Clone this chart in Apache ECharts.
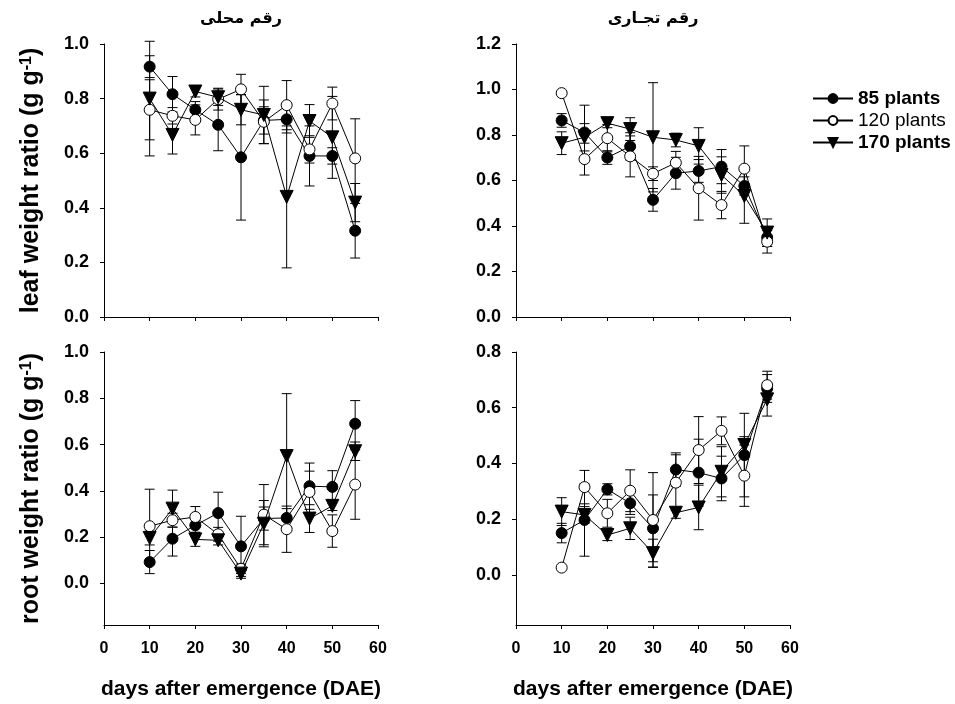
<!DOCTYPE html>
<html>
<head>
<meta charset="utf-8">
<script src="https://cdn.jsdelivr.net/npm/echarts@6/dist/echarts.min.js"></script>
<style>
html, body { margin: 0; padding: 0; background: #fff; }
#chart { width: 955px; height: 704px; }
</style>
</head>
<body>
<div id="chart"></div>
<script>
var days = [10, 15, 20, 25, 30, 35, 40, 45, 50, 55];
var seriesNames = ['85 plants', '120 plants', '170 plants'];
var panelTitles = ['رقم محلی', 'رقم تجـاری'];
var xName = 'days after emergence (DAE)';

var yTicksLeafLocal = [0, 0.2, 0.4, 0.6, 0.8, 1.0];
var yTicksLeafTrade = [0, 0.2, 0.4, 0.6, 0.8, 1.0, 1.2];
var yTicksRootLocal = [0, 0.2, 0.4, 0.6, 0.8, 1.0];
var yTicksRootTrade = [0, 0.2, 0.4, 0.6, 0.8];

// leaf weight ratio - local cultivar
var leafLocal85 = [0.917, 0.816, 0.759, 0.704, 0.585, 0.72, 0.724, 0.59, 0.59, 0.316];
var leafLocal85Err = [0.04, 0.065, 0.03, 0.095, 0.23, 0.05, 0.05, 0.11, 0.03, 0.10];
var leafLocal120 = [0.759, 0.737, 0.722, 0.798, 0.834, 0.715, 0.776, 0.614, 0.782, 0.581];
var leafLocal120Err = [0.11, 0.03, 0.055, 0.04, 0.055, 0.08, 0.09, 0.05, 0.06, 0.145];
var leafLocal170 = [0.80, 0.667, 0.826, 0.805, 0.759, 0.74, 0.44, 0.718, 0.658, 0.419];
var leafLocal170Err = [0.21, 0.07, 0.02, 0.03, 0.055, 0.105, 0.26, 0.06, 0.15, 0.07];

// leaf weight ratio - commercial cultivar
var leafTrade85 = [0.864, 0.811, 0.701, 0.75, 0.515, 0.632, 0.642, 0.661, 0.576, 0.35];
var leafTrade85Err = [0.03, 0.12, 0.03, 0.06, 0.05, 0.07, 0.05, 0.075, 0.04, 0.04];
var leafTrade120 = [0.984, 0.694, 0.786, 0.706, 0.63, 0.678, 0.566, 0.492, 0.652, 0.331];
var leafTrade120Err = [0, 0.07, 0.06, 0.09, 0.03, 0.05, 0.14, 0.06, 0.1, 0.05];
var leafTrade170 = [0.764, 0.79, 0.852, 0.826, 0.79, 0.778, 0.752, 0.624, 0.532, 0.371];
var leafTrade170Err = [0.05, 0.06, 0.02, 0.05, 0.24, 0.03, 0.08, 0.08, 0.12, 0.06];

// root weight ratio - local cultivar
var rootLocal85 = [0.092, 0.193, 0.251, 0.304, 0.16, 0.28, 0.283, 0.42, 0.417, 0.69];
var rootLocal85Err = [0.05, 0.075, 0.03, 0.09, 0.13, 0.05, 0.04, 0.1, 0.07, 0.1];
var rootLocal120 = [0.247, 0.273, 0.287, 0.212, 0.063, 0.297, 0.234, 0.395, 0.226, 0.427];
var rootLocal120Err = [0.16, 0.03, 0.045, 0.03, 0.02, 0.13, 0.1, 0.09, 0.07, 0.15];
var rootLocal170 = [0.196, 0.323, 0.19, 0.186, 0.042, 0.258, 0.55, 0.28, 0.335, 0.571];
var rootLocal170Err = [0.03, 0.08, 0.03, 0.02, 0.02, 0.1, 0.27, 0.06, 0.02, 0.04];

// root weight ratio - commercial cultivar
var rootTrade85 = [0.15, 0.197, 0.307, 0.257, 0.167, 0.378, 0.367, 0.346, 0.43, 0.669];
var rootTrade85Err = [0.035, 0.13, 0.02, 0.04, 0.12, 0.06, 0.12, 0.08, 0.15, 0.05];
var rootTrade120 = [0.026, 0.315, 0.221, 0.302, 0.197, 0.331, 0.448, 0.517, 0.356, 0.681];
var rootTrade120Err = [0, 0.06, 0.05, 0.075, 0.17, 0.1, 0.12, 0.05, 0.11, 0.05];
var rootTrade170 = [0.227, 0.215, 0.143, 0.167, 0.078, 0.223, 0.242, 0.37, 0.466, 0.63];
var rootTrade170Err = [0.05, 0.03, 0.02, 0.04, 0.05, 0.02, 0.08, 0.09, 0.03, 0.06];

var FONT = '"Liberation Sans", Arial, sans-serif';

var panels = [
  { left: 104, top: 44, min: 0, max: 1.0, ticks: yTicksLeafLocal, yName: 'leaf weight ratio', xLabels: false,
    vals: [leafLocal85, leafLocal120, leafLocal170], errs: [leafLocal85Err, leafLocal120Err, leafLocal170Err] },
  { left: 516, top: 44, min: 0, max: 1.2, ticks: yTicksLeafTrade, yName: null, xLabels: false,
    vals: [leafTrade85, leafTrade120, leafTrade170], errs: [leafTrade85Err, leafTrade120Err, leafTrade170Err] },
  { left: 104, top: 352, min: -0.18, max: 1.0, ticks: yTicksRootLocal, yName: 'root weight ratio', xLabels: true,
    vals: [rootLocal85, rootLocal120, rootLocal170], errs: [rootLocal85Err, rootLocal120Err, rootLocal170Err] },
  { left: 516, top: 352, min: -0.18, max: 0.8, ticks: yTicksRootTrade, yName: null, xLabels: true,
    vals: [rootTrade85, rootTrade120, rootTrade170], errs: [rootTrade85Err, rootTrade120Err, rootTrade170Err] }
];

var markerStyles = [
  { symbol: 'circle', size: 11, fill: '#000', rotate: 0 },
  { symbol: 'circle', size: 11, fill: '#fff', rotate: 0 },
  { symbol: 'triangle', size: 13, fill: '#000', rotate: 180 }
];

function errSeries(g, vals, errs) {
  return {
    type: 'custom',
    xAxisIndex: g,
    yAxisIndex: g,
    z: 1,
    silent: true,
    data: days.map(function (d, i) { return [d, vals[i] - errs[i], vals[i] + errs[i]]; }),
    encode: { x: 0, y: [1, 2] },
    renderItem: function (params, api) {
      var lo = api.coord([api.value(0), api.value(1)]);
      var hi = api.coord([api.value(0), api.value(2)]);
      var hw = 5;
      var st = { stroke: '#000', lineWidth: 1 };
      return {
        type: 'group',
        children: [
          { type: 'line', shape: { x1: lo[0], y1: lo[1], x2: hi[0], y2: hi[1] }, style: st },
          { type: 'line', shape: { x1: lo[0] - hw, y1: lo[1], x2: lo[0] + hw, y2: lo[1] }, style: st },
          { type: 'line', shape: { x1: hi[0] - hw, y1: hi[1], x2: hi[0] + hw, y2: hi[1] }, style: st }
        ]
      };
    }
  };
}

function lineSeries(g, k, vals) {
  var m = markerStyles[k];
  return {
    name: seriesNames[k],
    type: 'line',
    xAxisIndex: g,
    yAxisIndex: g,
    z: 3 + k,
    data: days.map(function (d, i) { return [d, vals[i]]; }),
    symbol: m.symbol,
    symbolSize: m.size,
    symbolRotate: m.rotate,
    showSymbol: true,
    lineStyle: { color: '#000', width: 1 },
    itemStyle: { color: m.fill, borderColor: '#000', borderWidth: 1 }
  };
}

var grids = [], xAxes = [], yAxes = [], series = [];
panels.forEach(function (p, g) {
  grids.push({ left: p.left, top: p.top, width: 274, height: 273 });
  xAxes.push({
    type: 'value', gridIndex: g, min: 0, max: 60, interval: 10,
    axisLine: { onZero: false, lineStyle: { color: '#000', width: 1 } },
    axisTick: { show: true, length: 4, lineStyle: { color: '#000' } },
    axisLabel: { show: p.xLabels, color: '#000', fontSize: 16, fontWeight: 'bold', fontFamily: FONT, margin: 16 },
    splitLine: { show: false },
    name: p.xLabels ? xName : '',
    nameLocation: 'middle',
    nameGap: 54,
    nameTextStyle: { color: '#000', fontSize: 21, fontWeight: 'bold', fontFamily: FONT }
  });
  yAxes.push({
    type: 'value', gridIndex: g, min: p.min, max: p.max,
    axisLine: { show: true, onZero: false, lineStyle: { color: '#000', width: 1 } },
    axisTick: { show: true, length: 4, customValues: p.ticks, lineStyle: { color: '#000' } },
    axisLabel: {
      color: '#000', fontSize: 18, fontWeight: 'bold', fontFamily: FONT, margin: 15,
      customValues: p.ticks,
      formatter: function (v) { return v.toFixed(1); }
    },
    splitLine: { show: false },
    name: p.yName ? '{a|' + p.yName + ' (g g}{s|-1}{a|)}' : '',
    nameLocation: 'middle',
    nameRotate: 90,
    nameGap: 60,
    nameTextStyle: {
      color: '#000',
      rich: {
        a: { fontSize: 25, fontWeight: 'bold', fontFamily: FONT, color: '#000' },
        s: { fontSize: 16, fontWeight: 'bold', fontFamily: FONT, color: '#000', verticalAlign: 'top' }
      }
    }
  });
  for (var k = 0; k < 3; k++) series.push(errSeries(g, p.vals[k], p.errs[k]));
  for (var k2 = 0; k2 < 3; k2++) series.push(lineSeries(g, k2, p.vals[k2]));
});

var chart = echarts.init(document.getElementById('chart'));
chart.setOption({
  animation: false,
  backgroundColor: '#fff',
  grid: grids,
  xAxis: xAxes,
  yAxis: yAxes,
  legend: {
    orient: 'vertical',
    left: 807,
    top: 84,
    itemWidth: 40,
    itemHeight: 11,
    itemGap: 3,
    textStyle: { fontSize: 19, color: '#000', fontFamily: FONT },
    data: [
      { name: seriesNames[0], textStyle: { fontWeight: 'bold' } },
      { name: seriesNames[1], textStyle: { fontWeight: 'normal' } },
      { name: seriesNames[2], textStyle: { fontWeight: 'bold' } }
    ]
  },
  graphic: [
    { type: 'text', x: 241, y: 19, style: { text: panelTitles[0], font: 'bold 16px "DejaVu Sans", sans-serif', fill: '#000', align: 'center', verticalAlign: 'middle' } },
    { type: 'text', x: 653, y: 19, style: { text: panelTitles[1], font: 'bold 16px "DejaVu Sans", sans-serif', fill: '#000', align: 'center', verticalAlign: 'middle' } }
  ],
  series: series
});
</script>
</body>
</html>
